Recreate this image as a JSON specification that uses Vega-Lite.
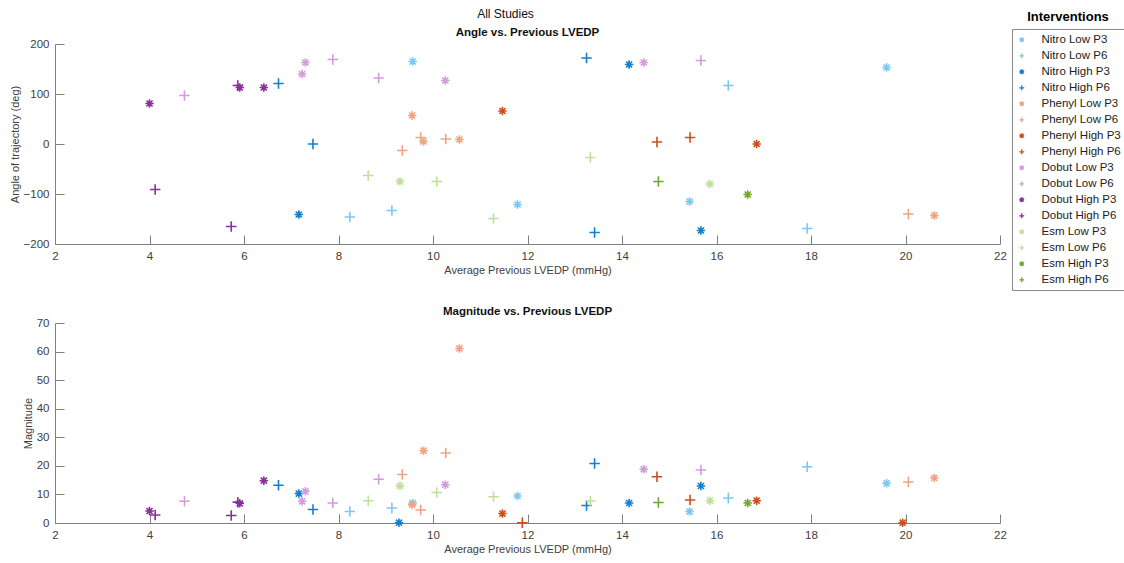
{
  "$schema": "https://vega.github.io/schema/vega-lite/v6.json",
  "padding": {"left": 9, "top": 7, "right": 2, "bottom": 2},
  "background": "white",
  "title": {"text": "All Studies", "anchor": "middle", "fontSize": 12, "fontWeight": "normal", "font": "Liberation Sans", "color": "#111", "offset": 6, "frame": "group", "dx": -22},
  "data": {"values": [
    {"x": 9.57, "angle": 165, "mag": 7.0, "intervention": "Nitro Low P3"},
    {"x": 11.79, "angle": -121, "mag": 9.45, "intervention": "Nitro Low P3"},
    {"x": 15.43, "angle": -115, "mag": 4.0, "intervention": "Nitro Low P3"},
    {"x": 19.60, "angle": 153, "mag": 13.9, "intervention": "Nitro Low P3"},
    {"x": 8.24, "angle": -146, "mag": 4.0, "intervention": "Nitro Low P6"},
    {"x": 9.13, "angle": -133, "mag": 5.25, "intervention": "Nitro Low P6"},
    {"x": 16.25, "angle": 117, "mag": 8.75, "intervention": "Nitro Low P6"},
    {"x": 17.92, "angle": -169, "mag": 19.7, "intervention": "Nitro Low P6"},
    {"x": 7.16, "angle": -141, "mag": 10.3, "intervention": "Nitro High P3"},
    {"x": 9.28, "angle": null, "mag": 0.1, "intervention": "Nitro High P3"},
    {"x": 14.15, "angle": 159, "mag": 7.0, "intervention": "Nitro High P3"},
    {"x": 15.67, "angle": -173, "mag": 12.95, "intervention": "Nitro High P3"},
    {"x": 6.73, "angle": 121, "mag": 13.2, "intervention": "Nitro High P6"},
    {"x": 7.46, "angle": 0, "mag": 4.7, "intervention": "Nitro High P6"},
    {"x": 13.25, "angle": 172, "mag": 6.1, "intervention": "Nitro High P6"},
    {"x": 13.42, "angle": -177, "mag": 20.8, "intervention": "Nitro High P6"},
    {"x": 9.56, "angle": 57, "mag": 6.4, "intervention": "Phenyl Low P3"},
    {"x": 9.80, "angle": 5, "mag": 25.3, "intervention": "Phenyl Low P3"},
    {"x": 10.56, "angle": 9, "mag": 61.1, "intervention": "Phenyl Low P3"},
    {"x": 20.61, "angle": -143, "mag": 15.75, "intervention": "Phenyl Low P3"},
    {"x": 9.35, "angle": -13, "mag": 17.0, "intervention": "Phenyl Low P6"},
    {"x": 9.74, "angle": 13, "mag": 4.55, "intervention": "Phenyl Low P6"},
    {"x": 10.27, "angle": 10, "mag": 24.5, "intervention": "Phenyl Low P6"},
    {"x": 20.06, "angle": -140, "mag": 14.35, "intervention": "Phenyl Low P6"},
    {"x": 11.47, "angle": 66, "mag": 3.3, "intervention": "Phenyl High P3"},
    {"x": 16.85, "angle": 0, "mag": 7.8, "intervention": "Phenyl High P3"},
    {"x": 19.94, "angle": null, "mag": 0.1, "intervention": "Phenyl High P3"},
    {"x": 11.89, "angle": null, "mag": 0.1, "intervention": "Phenyl High P6"},
    {"x": 14.74, "angle": 4, "mag": 16.2, "intervention": "Phenyl High P6"},
    {"x": 15.44, "angle": 13, "mag": 8.05, "intervention": "Phenyl High P6"},
    {"x": 7.23, "angle": 140, "mag": 7.6, "intervention": "Dobut Low P3"},
    {"x": 7.30, "angle": 163, "mag": 11.1, "intervention": "Dobut Low P3"},
    {"x": 10.26, "angle": 127, "mag": 13.4, "intervention": "Dobut Low P3"},
    {"x": 14.46, "angle": 163, "mag": 18.8, "intervention": "Dobut Low P3"},
    {"x": 4.74, "angle": 97, "mag": 7.6, "intervention": "Dobut Low P6"},
    {"x": 7.88, "angle": 169, "mag": 7.0, "intervention": "Dobut Low P6"},
    {"x": 8.85, "angle": 132, "mag": 15.3, "intervention": "Dobut Low P6"},
    {"x": 15.67, "angle": 167, "mag": 18.55, "intervention": "Dobut Low P6"},
    {"x": 4.0, "angle": 81, "mag": 4.2, "intervention": "Dobut High P3"},
    {"x": 5.91, "angle": 113, "mag": 6.9, "intervention": "Dobut High P3"},
    {"x": 6.42, "angle": 113, "mag": 14.8, "intervention": "Dobut High P3"},
    {"x": 4.12, "angle": -91, "mag": 2.8, "intervention": "Dobut High P6"},
    {"x": 5.73, "angle": -165, "mag": 2.6, "intervention": "Dobut High P6"},
    {"x": 5.87, "angle": 117, "mag": 7.3, "intervention": "Dobut High P6"},
    {"x": 9.30, "angle": -75, "mag": 13.0, "intervention": "Esm Low P3"},
    {"x": 15.86, "angle": -80, "mag": 7.8, "intervention": "Esm Low P3"},
    {"x": 8.63, "angle": -63, "mag": 7.8, "intervention": "Esm Low P6"},
    {"x": 10.08, "angle": -75, "mag": 10.7, "intervention": "Esm Low P6"},
    {"x": 11.28, "angle": -149, "mag": 9.2, "intervention": "Esm Low P6"},
    {"x": 13.33, "angle": -27, "mag": 7.7, "intervention": "Esm Low P6"},
    {"x": 16.66, "angle": -101, "mag": 7.0, "intervention": "Esm High P3"},
    {"x": 14.77, "angle": -75, "mag": 7.2, "intervention": "Esm High P6"}
  ]},
  "bounds": "flush",
  "spacing": 79,
  "vconcat": [
    {
      "width": 945,
      "height": 200,
      "title": {"text": "Angle vs. Previous LVEDP", "fontSize": 11.5, "fontWeight": "bold", "font": "Liberation Sans", "color": "#111", "offset": 0},
      "transform": [{"filter": "isValid(datum.angle)"}],
      "mark": {"type": "point", "filled": false, "strokeWidth": 1.6, "opacity": 1},
      "encoding": {
        "x": {"field": "x", "type": "quantitative", "scale": {"domain": [2, 22], "nice": false, "zero": false}, "axis": {"title": "Average Previous LVEDP (mmHg)", "values": [2, 4, 6, 8, 10, 12, 14, 16, 18, 20, 22]}},
        "y": {"field": "angle", "type": "quantitative", "scale": {"domain": [-200, 200], "nice": false}, "axis": {"title": "Angle of trajectory (deg)", "values": [-200, -100, 0, 100, 200]}},
        "color": {"field": "intervention", "type": "nominal", "title": "Interventions",
          "scale": {"domain": ["Nitro Low P3", "Nitro Low P6", "Nitro High P3", "Nitro High P6", "Phenyl Low P3", "Phenyl Low P6", "Phenyl High P3", "Phenyl High P6", "Dobut Low P3", "Dobut Low P6", "Dobut High P3", "Dobut High P6", "Esm Low P3", "Esm Low P6", "Esm High P3", "Esm High P6"],
                    "range": ["#7DC7F7", "#7DC7F7", "#1380D0", "#1380D0", "#F2A383", "#F2A383", "#C9501C", "#C9501C", "#D59BDE", "#D59BDE", "#8A2F99", "#8A2F99", "#BFE09A", "#BFE09A", "#6EA830", "#6EA830"]},
          "legend": {
            "encode": {
              "symbols": {"update": {
                "shape": {"signal": "indexof(datum.value, 'P3') >= 0 ? 'circle' : 'M-1,0L1,0M0,-1L0,1'"},
                "fill": {"signal": "indexof(datum.value, 'P3') >= 0 ? scale('color', datum.value) : 'transparent'"}
              }}
            }
          }},
        "shape": {"field": "intervention", "type": "nominal", "legend": null,
          "scale": {"domain": ["Nitro Low P3", "Nitro Low P6", "Nitro High P3", "Nitro High P6", "Phenyl Low P3", "Phenyl Low P6", "Phenyl High P3", "Phenyl High P6", "Dobut Low P3", "Dobut Low P6", "Dobut High P3", "Dobut High P6", "Esm Low P3", "Esm Low P6", "Esm High P3", "Esm High P6"],
                    "range": ["M-1,0L1,0M0,-1L0,1M-0.72,-0.72L0.72,0.72M-0.72,0.72L0.72,-0.72", "M-1,0L1,0M0,-1L0,1", "M-1,0L1,0M0,-1L0,1M-0.72,-0.72L0.72,0.72M-0.72,0.72L0.72,-0.72", "M-1,0L1,0M0,-1L0,1", "M-1,0L1,0M0,-1L0,1M-0.72,-0.72L0.72,0.72M-0.72,0.72L0.72,-0.72", "M-1,0L1,0M0,-1L0,1", "M-1,0L1,0M0,-1L0,1M-0.72,-0.72L0.72,0.72M-0.72,0.72L0.72,-0.72", "M-1,0L1,0M0,-1L0,1", "M-1,0L1,0M0,-1L0,1M-0.72,-0.72L0.72,0.72M-0.72,0.72L0.72,-0.72", "M-1,0L1,0M0,-1L0,1", "M-1,0L1,0M0,-1L0,1M-0.72,-0.72L0.72,0.72M-0.72,0.72L0.72,-0.72", "M-1,0L1,0M0,-1L0,1", "M-1,0L1,0M0,-1L0,1M-0.72,-0.72L0.72,0.72M-0.72,0.72L0.72,-0.72", "M-1,0L1,0M0,-1L0,1", "M-1,0L1,0M0,-1L0,1M-0.72,-0.72L0.72,0.72M-0.72,0.72L0.72,-0.72", "M-1,0L1,0M0,-1L0,1"]}},
        "size": {"condition": {"test": "indexof(datum.intervention, 'P3') >= 0", "value": 72}, "value": 110}
      }
    },
    {
      "width": 945,
      "height": 200,
      "title": {"text": "Magnitude vs. Previous LVEDP", "fontSize": 11.5, "fontWeight": "bold", "font": "Liberation Sans", "color": "#111", "offset": 0},
      "mark": {"type": "point", "filled": false, "strokeWidth": 1.6, "opacity": 1},
      "encoding": {
        "x": {"field": "x", "type": "quantitative", "scale": {"domain": [2, 22], "nice": false, "zero": false}, "axis": {"title": "Average Previous LVEDP (mmHg)", "values": [2, 4, 6, 8, 10, 12, 14, 16, 18, 20, 22]}},
        "y": {"field": "mag", "type": "quantitative", "scale": {"domain": [0, 70], "nice": false}, "axis": {"title": "Magnitude", "values": [0, 10, 20, 30, 40, 50, 60, 70]}},
        "color": {"field": "intervention", "type": "nominal", "title": "Interventions"},
        "shape": {"field": "intervention", "type": "nominal", "legend": null},
        "size": {"condition": {"test": "indexof(datum.intervention, 'P3') >= 0", "value": 72}, "value": 110}
      }
    }
  ],
  "config": {
    "font": "Liberation Sans",
    "view": {"stroke": null},
    "axis": {"grid": false, "domainColor": "#808080", "tickColor": "#808080", "tickSize": -9, "tickWidth": 1, "domainWidth": 1, "labelFont": "Liberation Sans", "labelFontSize": 11.5, "labelColor": "#404040", "labelPadding": 15, "labelFlush": false, "titleFont": "Liberation Sans", "titleFontSize": 11, "titleFontWeight": "normal", "titleColor": "#404040", "titlePadding": 3},
    "legend": {
      "orient": "none", "legendX": 957, "legendY": -15,
      "strokeColor": "#888", "fillColor": "white", "padding": 3,
      "titleOrient": "top", "titleAnchor": "middle", "titleBaseline": "line-bottom", "titleLineHeight": 30, "titlePadding": -12,
      "titleFontSize": 13, "titleFontWeight": "bold", "titleColor": "#000", "titleFont": "Liberation Sans",
      "labelFontSize": 11.5, "labelColor": "#222", "labelFont": "Liberation Sans", "labelOffset": 14,
      "symbolSize": 25, "symbolStrokeWidth": 1.3, "clipHeight": 13.67, "rowPadding": 2, "symbolOffset": 1
    }
  }
}
